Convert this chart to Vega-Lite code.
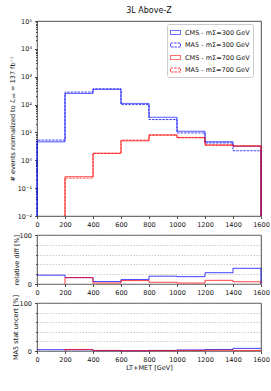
{
  "$schema": "https://vega.github.io/schema/vega-lite/v6.json",
  "padding": {"left": 8, "top": 6, "right": 5, "bottom": 5},
  "background": "white",
  "spacing": 19,
  "bounds": "flush",
  "config": {
    "font": "DejaVu Sans",
    "view": {"stroke": "#222", "strokeWidth": 0.8},
    "axis": {
      "domain": false,
      "tickColor": "#222",
      "tickWidth": 0.8,
      "tickSize": 2.5,
      "labelFontSize": 6.5,
      "labelColor": "#111",
      "labelPadding": 2.5,
      "titleFontSize": 6.5,
      "titleFontWeight": "normal",
      "titleColor": "#111",
      "grid": false
    },
    "title": {"fontSize": 8, "fontWeight": "normal", "color": "#111", "offset": 3}
  },
  "resolve": {"scale": {"color": "independent", "strokeDash": "independent", "y": "independent"}},
  "datasets": {
    "top": [
      {"s": "CMS - mΣ=300 GeV", "i": 0, "x": 0, "y": 0.01},
      {"s": "CMS - mΣ=300 GeV", "i": 1, "x": 0, "y": 4.6},
      {"s": "CMS - mΣ=300 GeV", "i": 2, "x": 200, "y": 250},
      {"s": "CMS - mΣ=300 GeV", "i": 3, "x": 400, "y": 350},
      {"s": "CMS - mΣ=300 GeV", "i": 4, "x": 600, "y": 110},
      {"s": "CMS - mΣ=300 GeV", "i": 5, "x": 800, "y": 35},
      {"s": "CMS - mΣ=300 GeV", "i": 6, "x": 1000, "y": 11},
      {"s": "CMS - mΣ=300 GeV", "i": 7, "x": 1200, "y": 4.6},
      {"s": "CMS - mΣ=300 GeV", "i": 8, "x": 1400, "y": 3.2},
      {"s": "CMS - mΣ=300 GeV", "i": 9, "x": 1600, "y": 3.2},
      {"s": "CMS - mΣ=300 GeV", "i": 10, "x": 1600, "y": 0.01},
      {"s": "MA5 - mΣ=300 GeV", "i": 0, "x": 0, "y": 0.01},
      {"s": "MA5 - mΣ=300 GeV", "i": 1, "x": 0, "y": 5.3},
      {"s": "MA5 - mΣ=300 GeV", "i": 2, "x": 200, "y": 280},
      {"s": "MA5 - mΣ=300 GeV", "i": 3, "x": 400, "y": 370},
      {"s": "MA5 - mΣ=300 GeV", "i": 4, "x": 600, "y": 100},
      {"s": "MA5 - mΣ=300 GeV", "i": 5, "x": 800, "y": 29},
      {"s": "MA5 - mΣ=300 GeV", "i": 6, "x": 1000, "y": 9.6},
      {"s": "MA5 - mΣ=300 GeV", "i": 7, "x": 1200, "y": 4.2},
      {"s": "MA5 - mΣ=300 GeV", "i": 8, "x": 1400, "y": 2.2},
      {"s": "MA5 - mΣ=300 GeV", "i": 9, "x": 1600, "y": 2.2},
      {"s": "MA5 - mΣ=300 GeV", "i": 10, "x": 1600, "y": 0.01},
      {"s": "CMS - mΣ=700 GeV", "i": 0, "x": 200, "y": 0.01},
      {"s": "CMS - mΣ=700 GeV", "i": 1, "x": 200, "y": 0.26},
      {"s": "CMS - mΣ=700 GeV", "i": 2, "x": 400, "y": 1.8},
      {"s": "CMS - mΣ=700 GeV", "i": 3, "x": 600, "y": 5.0},
      {"s": "CMS - mΣ=700 GeV", "i": 4, "x": 800, "y": 8.2},
      {"s": "CMS - mΣ=700 GeV", "i": 5, "x": 1000, "y": 6.6},
      {"s": "CMS - mΣ=700 GeV", "i": 6, "x": 1200, "y": 3.6},
      {"s": "CMS - mΣ=700 GeV", "i": 7, "x": 1400, "y": 3.3},
      {"s": "CMS - mΣ=700 GeV", "i": 8, "x": 1600, "y": 3.3},
      {"s": "CMS - mΣ=700 GeV", "i": 9, "x": 1600, "y": 0.01},
      {"s": "MA5 - mΣ=700 GeV", "i": 0, "x": 200, "y": 0.01},
      {"s": "MA5 - mΣ=700 GeV", "i": 1, "x": 200, "y": 0.23},
      {"s": "MA5 - mΣ=700 GeV", "i": 2, "x": 400, "y": 1.75},
      {"s": "MA5 - mΣ=700 GeV", "i": 3, "x": 600, "y": 5.3},
      {"s": "MA5 - mΣ=700 GeV", "i": 4, "x": 800, "y": 7.9},
      {"s": "MA5 - mΣ=700 GeV", "i": 5, "x": 1000, "y": 6.4},
      {"s": "MA5 - mΣ=700 GeV", "i": 6, "x": 1200, "y": 3.4},
      {"s": "MA5 - mΣ=700 GeV", "i": 7, "x": 1400, "y": 3.2},
      {"s": "MA5 - mΣ=700 GeV", "i": 8, "x": 1600, "y": 3.2},
      {"s": "MA5 - mΣ=700 GeV", "i": 9, "x": 1600, "y": 0.01}
    ],
    "diff": [
      {"m": "300", "i": 0, "x": 0, "y": 18},
      {"m": "300", "i": 1, "x": 200, "y": 13},
      {"m": "300", "i": 2, "x": 400, "y": 5},
      {"m": "300", "i": 3, "x": 600, "y": 9},
      {"m": "300", "i": 4, "x": 800, "y": 16},
      {"m": "300", "i": 5, "x": 1000, "y": 15},
      {"m": "300", "i": 6, "x": 1200, "y": 23},
      {"m": "300", "i": 7, "x": 1400, "y": 32},
      {"m": "300", "i": 8, "x": 1600, "y": 32},
      {"m": "300", "i": 9, "x": 1600, "y": 0},
      {"m": "700", "i": 0, "x": 200, "y": 0},
      {"m": "700", "i": 1, "x": 200, "y": 13},
      {"m": "700", "i": 2, "x": 400, "y": 2},
      {"m": "700", "i": 3, "x": 600, "y": 7},
      {"m": "700", "i": 4, "x": 800, "y": 3.5},
      {"m": "700", "i": 5, "x": 1000, "y": 2},
      {"m": "700", "i": 6, "x": 1200, "y": 7.5},
      {"m": "700", "i": 7, "x": 1400, "y": 4.5},
      {"m": "700", "i": 8, "x": 1600, "y": 4.5},
      {"m": "700", "i": 9, "x": 1600, "y": 0}
    ],
    "unc": [
      {"m": "300", "i": 0, "x": 0, "y": 2.7},
      {"m": "300", "i": 1, "x": 200, "y": 2.5},
      {"m": "300", "i": 2, "x": 400, "y": 0.8},
      {"m": "300", "i": 3, "x": 600, "y": 0.5},
      {"m": "300", "i": 4, "x": 800, "y": 1.2},
      {"m": "300", "i": 5, "x": 1000, "y": 2.2},
      {"m": "300", "i": 6, "x": 1200, "y": 3.2},
      {"m": "300", "i": 7, "x": 1400, "y": 5.5},
      {"m": "300", "i": 8, "x": 1600, "y": 5.5},
      {"m": "700", "i": 0, "x": 200, "y": 0},
      {"m": "700", "i": 1, "x": 200, "y": 3.2},
      {"m": "700", "i": 2, "x": 400, "y": 1.2},
      {"m": "700", "i": 3, "x": 600, "y": 0.6},
      {"m": "700", "i": 4, "x": 800, "y": 0.8},
      {"m": "700", "i": 5, "x": 1000, "y": 1.2},
      {"m": "700", "i": 6, "x": 1200, "y": 1.5},
      {"m": "700", "i": 7, "x": 1400, "y": 1.2},
      {"m": "700", "i": 8, "x": 1600, "y": 1.2}
    ]
  },
  "vconcat": [
    {
      "width": 224,
      "height": 195,
      "title": {"text": "3L Above-Z", "anchor": "middle", "frame": "group"},
      "data": {"name": "top"},
      "mark": {"type": "line", "interpolate": "step-after", "strokeWidth": 1, "opacity": 0.75},
      "encoding": {
        "x": {"field": "x", "type": "quantitative", "title": null,
              "scale": {"domain": [0, 1600], "nice": false, "zero": false},
              "axis": {"values": [0, 200, 400, 600, 800, 1000, 1200, 1400, 1600], "format": "d", "labelFlush": false}},
        "y": {"field": "y", "type": "quantitative", "title": "# events normalized to ℒᵢₙₜ = 137 fb⁻¹",
              "scale": {"type": "log", "domain": [0.01, 100000], "nice": false},
              "axis": {
                "values": [0.01, 0.02, 0.03, 0.04, 0.05, 0.06, 0.07, 0.08, 0.09, 0.1, 0.2, 0.3, 0.4, 0.5, 0.6, 0.7, 0.8, 0.9, 1, 2, 3, 4, 5, 6, 7, 8, 9, 10, 20, 30, 40, 50, 60, 70, 80, 90, 100, 200, 300, 400, 500, 600, 700, 800, 900, 1000, 2000, 3000, 4000, 5000, 6000, 7000, 8000, 9000, 10000, 20000, 30000, 40000, 50000, 60000, 70000, 80000, 90000, 100000],
                "labelExpr": "abs(log(datum.value)/log(10) - round(log(datum.value)/log(10))) > 0.001 ? '' : ({'-2':'10⁻²','-1':'10⁻¹','0':'10⁰','1':'10¹','2':'10²','3':'10³','4':'10⁴','5':'10⁵'})[''+round(log(datum.value)/log(10))]",
                "labelOverlap": false,
                "labelPadding": 3,
                "titlePadding": 2,
                "tickSize": {"condition": {"test": "abs(log(datum.value)/log(10) - round(log(datum.value)/log(10))) > 0.001", "value": 1.5}, "value": 2.5}
              }},
        "color": {"field": "s", "type": "nominal",
                  "scale": {"domain": ["CMS - mΣ=300 GeV", "MA5 - mΣ=300 GeV", "CMS - mΣ=700 GeV", "MA5 - mΣ=700 GeV"], "range": ["#0000ff", "#0000ff", "#ff0000", "#ff0000"]},
                  "legend": {"title": null, "orient": "none", "legendX": 130, "legendY": 3,
                             "symbolType": "M-1,-0.4H1V0.4H-1Z", "symbolSize": 100, "symbolStrokeWidth": 1,
                             "labelFontSize": 6.5, "labelColor": "#111", "labelLimit": 200, "rowPadding": 2.5,
                             "padding": 3, "strokeColor": "#ccc", "fillColor": "white", "cornerRadius": 2}},
        "strokeDash": {"field": "s", "type": "nominal",
                       "scale": {"domain": ["CMS - mΣ=300 GeV", "MA5 - mΣ=300 GeV", "CMS - mΣ=700 GeV", "MA5 - mΣ=700 GeV"], "range": [[1, 0], [2.5, 1], [1, 0], [2.5, 1]]},
                       "legend": {"title": null, "orient": "none", "legendX": 130, "legendY": 3,
                             "symbolType": "M-1,-0.4H1V0.4H-1Z", "symbolSize": 100, "symbolStrokeWidth": 1,
                             "labelFontSize": 6.5, "labelColor": "#111", "labelLimit": 200, "rowPadding": 2.5,
                             "padding": 3, "strokeColor": "#ccc", "fillColor": "white", "cornerRadius": 2}},
        "order": {"field": "i", "type": "quantitative"}
      }
    },
    {
      "width": 224,
      "height": 49,
      "data": {"name": "diff"},
      "mark": {"type": "line", "interpolate": "step-after", "strokeWidth": 1, "opacity": 0.75},
      "encoding": {
        "x": {"field": "x", "type": "quantitative", "title": null,
              "scale": {"domain": [0, 1600], "nice": false, "zero": false},
              "axis": {"values": [0, 200, 400, 600, 800, 1000, 1200, 1400, 1600], "format": "d", "labelFlush": false}},
        "y": {"field": "y", "type": "quantitative", "title": "relative diff [%]",
              "scale": {"domain": [0, 100], "nice": false},
              "axis": {"values": [0, 20, 40, 60, 80, 100],
                       "labelExpr": "datum.value == 0 || datum.value == 100 ? datum.label : ''",
                       "labelOverlap": false, "labelPadding": 3, "titlePadding": 0,
                       "grid": true, "gridDash": [1.5, 1.5], "gridColor": "#aaa", "gridWidth": 0.6,
                       "tickSize": {"condition": {"test": "datum.value == 0 || datum.value == 100", "value": 2.5}, "value": 1.5}}},
        "color": {"field": "m", "type": "nominal", "scale": {"domain": ["300", "700"], "range": ["#0000ff", "#ff0000"]}, "legend": null},
        "order": {"field": "i", "type": "quantitative"}
      }
    },
    {
      "width": 224,
      "height": 48,
      "data": {"name": "unc"},
      "mark": {"type": "line", "interpolate": "step-after", "strokeWidth": 1, "opacity": 0.75},
      "encoding": {
        "x": {"field": "x", "type": "quantitative", "title": "LT+MET [GeV]",
              "scale": {"domain": [0, 1600], "nice": false, "zero": false},
              "axis": {"values": [0, 200, 400, 600, 800, 1000, 1200, 1400, 1600], "format": "d", "labelFlush": false, "titlePadding": 2}},
        "y": {"field": "y", "type": "quantitative", "title": "MA5 stat uncert [%]",
              "scale": {"domain": [0, 100], "nice": false},
              "axis": {"values": [0, 20, 40, 60, 80, 100],
                       "labelExpr": "datum.value == 0 || datum.value == 100 ? datum.label : ''",
                       "labelOverlap": false, "labelPadding": 3, "titlePadding": 1,
                       "grid": true, "gridDash": [1.5, 1.5], "gridColor": "#aaa", "gridWidth": 0.6,
                       "tickSize": {"condition": {"test": "datum.value == 0 || datum.value == 100", "value": 2.5}, "value": 1.5}}},
        "color": {"field": "m", "type": "nominal", "scale": {"domain": ["300", "700"], "range": ["#0000ff", "#ff0000"]}, "legend": null},
        "order": {"field": "i", "type": "quantitative"}
      }
    }
  ]
}
